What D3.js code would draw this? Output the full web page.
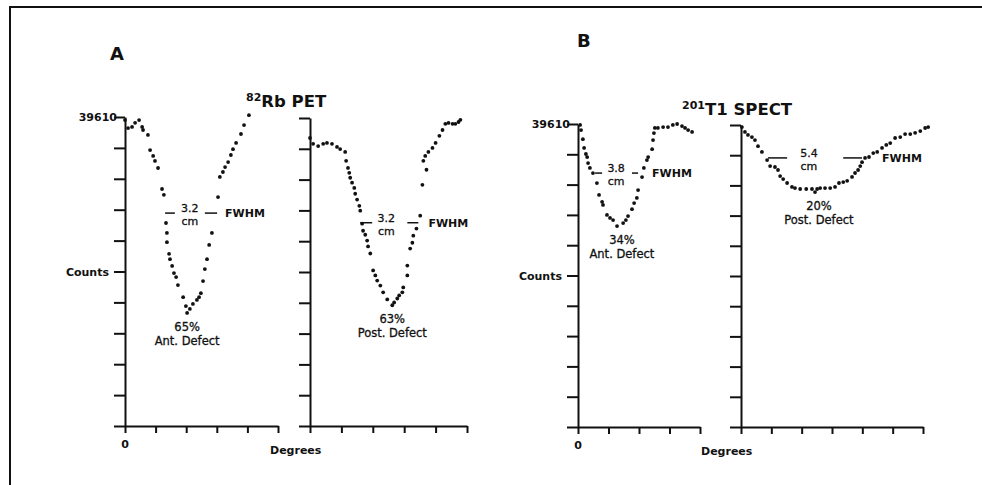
<!DOCTYPE html>
<html>
<head>
<meta charset="utf-8">
<script src="https://cdn.jsdelivr.net/npm/d3@7"></script>
<style>
  html, body { margin: 0; padding: 0; background: #fff; }
  svg { display: block; }
  text { font-family: "DejaVu Sans", sans-serif; fill: #111; }
  .note { stroke: #111; stroke-width: 0.3; }
</style>
</head>
<body>
<div id="chart"></div>
<script>
// counts as % of the 39610 maximum, x in axis-tick units (degrees)
const rbAnterior = [
  [0, 99.0], [0.1, 96.4], [0.23, 96.8], [0.33, 98.1], [0.46, 99.0], [0.56, 96.8],
  [0.59, 95.8], [0.75, 94.2], [0.82, 89.3], [0.92, 87.4], [0.98, 85.8], [1.08, 83.5],
  [1.21, 76.7], [1.27, 74.8], [1.34, 65.7], [1.37, 62.5], [1.37, 59.5], [1.44, 55.7],
  [1.47, 54.0], [1.54, 51.8], [1.6, 49.5], [1.67, 48.2], [1.73, 45.6], [1.9, 41.7],
  [1.99, 38.8], [2.03, 36.6], [2.12, 37.9], [2.22, 39.5], [2.35, 40.8], [2.42, 41.7],
  [2.48, 43.0], [2.55, 46.9], [2.61, 50.8], [2.68, 54.0], [2.75, 58.6], [2.84, 62.5],
  [3.04, 74.1], [3.1, 80.6], [3.2, 82.2], [3.27, 83.8], [3.37, 85.4], [3.46, 87.7],
  [3.53, 89.6], [3.63, 91.6], [3.79, 94.5], [3.89, 97.4], [4.05, 100.6]
];
const rbPosterior = [
  [0, 93.5], [0.1, 91.6], [0.26, 90.9], [0.42, 91.6], [0.54, 91.9], [0.7, 91.6],
  [0.86, 90.6], [0.96, 89.9], [1.12, 89.0], [1.15, 86.1], [1.21, 83.8], [1.25, 82.2],
  [1.28, 80.6], [1.34, 79.0], [1.41, 77.3], [1.44, 75.4], [1.5, 73.5], [1.57, 71.5],
  [1.6, 69.9], [1.66, 65.7], [1.69, 63.4], [1.76, 62.1], [1.82, 60.2], [1.85, 58.3],
  [1.92, 56.0], [2.01, 50.5], [2.08, 48.9], [2.14, 47.2], [2.24, 45.6], [2.33, 43.4],
  [2.46, 41.1], [2.62, 39.2], [2.68, 40.1], [2.78, 41.4], [2.84, 42.4], [2.94, 43.4],
  [2.97, 45.0], [3.1, 48.9], [3.1, 52.1], [3.19, 57.6], [3.26, 59.5], [3.29, 61.8],
  [3.39, 64.1], [3.51, 68.3], [3.58, 78.3], [3.71, 83.2], [3.61, 86.1], [3.67, 87.7],
  [3.77, 89.0], [3.9, 90.3], [4.0, 91.9], [4.12, 94.2], [4.22, 96.1], [4.31, 98.1],
  [4.41, 98.4], [4.54, 98.1], [4.63, 98.1], [4.73, 98.7], [4.79, 99.4]
];
const tlAnterior = [
  [0.07, 99.7], [0.1, 98.0], [0.16, 95.0], [0.2, 92.1], [0.26, 90.1], [0.3, 89.1],
  [0.33, 87.1], [0.39, 85.5], [0.49, 83.8], [0.62, 80.5], [0.69, 76.6], [0.79, 74.3],
  [0.82, 73.3], [0.95, 70.0], [1.05, 69.0], [1.15, 68.3], [1.28, 66.3], [1.48, 67.3],
  [1.57, 68.3], [1.64, 69.6], [1.77, 71.9], [1.84, 73.9], [1.93, 75.6], [1.97, 78.2],
  [2.1, 82.5], [2.16, 85.5], [2.26, 88.1], [2.3, 89.1], [2.43, 91.7], [2.46, 94.7],
  [2.49, 97.0], [2.52, 98.7], [2.62, 98.7], [2.79, 99.0], [2.95, 99.0], [3.11, 99.7],
  [3.25, 100], [3.41, 99.3], [3.51, 98.7], [3.61, 98.0], [3.74, 97.4]
];
const tlPosterior = [
  [0.03, 99.3], [0.13, 97.7], [0.23, 96.7], [0.36, 96.0], [0.46, 95.0], [0.56, 93.0],
  [0.69, 91.1], [0.86, 88.4], [0.96, 86.4], [1.12, 86.1], [1.22, 85.1], [1.29, 83.1],
  [1.39, 82.1], [1.52, 80.8], [1.68, 79.5], [1.78, 79.1], [1.95, 78.8], [2.15, 78.8],
  [2.34, 78.8], [2.44, 77.8], [2.51, 78.8], [2.61, 79.1], [2.77, 79.1], [2.94, 79.1],
  [3.1, 79.5], [3.23, 80.8], [3.37, 81.1], [3.5, 81.5], [3.66, 82.8], [3.76, 84.1],
  [3.86, 85.1], [3.93, 86.4], [3.99, 87.7], [4.09, 89.1], [4.22, 89.4], [4.36, 90.7],
  [4.49, 91.1], [4.65, 92.4], [4.79, 93.4], [4.92, 94.0], [5.08, 95.7], [5.25, 96.0],
  [5.41, 97.0], [5.58, 97.0], [5.74, 97.4], [5.91, 98.0], [6.07, 99.0], [6.17, 99.3]
];

const maxCounts = "39610";
const yTicks = d3.range(0, 101, 10);
const fwhmWidths = ["3.2", "3.2", "3.8", "5.4"];
const defectPercents = ["65%", "63%", "34%", "20%"];
const defectNames = ["Ant. Defect", "Post. Defect", "Ant. Defect", "Post. Defect"];
// fwhm level (%), left dash, right dash, width label x, defect label x (tick units)
const fwhmLevels = [68.9, 66.0, 83.8, 89.1];
const fwhmLeft = [[1.31, 1.63], [1.60, 1.98], [0.56, 0.79], [0.89, 1.52]];
const fwhmRight = [[2.61, 3.01], [3.10, 3.45], [1.77, 1.97], [3.37, 3.99]];
const fwhmLabelX = [2.12, 2.43, 1.25, 2.24];
const fwhmTagX = [3.27, 3.77, 2.43, 4.65];
const defectLabelX = [2.03, 2.62, 1.44, 2.57];
const defectMin = [36.6, 39.2, 66.3, 77.8];

const series = [rbAnterior, rbPosterior, tlAnterior, tlPosterior];

// panel layout in pixels
const panels = [
  { x0: 125, x1: 278, ticks: 5, top: 117, bottom: 426, first: true },
  { x0: 310, x1: 467, ticks: 5, top: 118, bottom: 426, first: false },
  { x0: 578, x1: 700, ticks: 4, top: 124, bottom: 427, first: true },
  { x0: 741, x1: 923, ticks: 6, top: 125, bottom: 427, first: false }
];

const width = 982, height = 485;
const svg = d3.select("#chart").append("svg")
  .attr("width", width)
  .attr("height", height);

// frame
svg.append("path")
  .attr("d", "M10,485V7H982")
  .attr("fill", "none")
  .attr("stroke", "#111")
  .attr("stroke-width", 2);

panels.forEach((p, i) => {
  const x = d3.scaleLinear().domain([0, p.ticks]).range([p.x0, p.x1]);
  const y = d3.scaleLinear().domain([0, 100]).range([p.bottom, p.top]);
  const g = svg.append("g");

  const yAxis = g.append("g")
    .attr("transform", `translate(${p.x0},0)`)
    .call(d3.axisLeft(y).tickValues(yTicks).tickSize(11).tickSizeOuter(0).tickFormat(""));
  const xAxis = g.append("g")
    .attr("transform", `translate(0,${p.bottom})`)
    .call(d3.axisBottom(x).tickValues(d3.range(0, p.ticks + 1)).tickSize(7).tickSizeOuter(0).tickFormat(""));
  [yAxis, xAxis].forEach(a => {
    a.selectAll("path, line").attr("stroke", "#111").attr("stroke-width", 2);
  });

  if (p.first) {
    g.append("text")
      .attr("x", p.x0 - 8).attr("y", y(100) + 4)
      .attr("text-anchor", "end")
      .attr("font-size", 11).attr("font-weight", "bold")
      .text(maxCounts);
    g.append("text")
      .attr("x", p.x0 - 16).attr("y", y(50) + 4)
      .attr("text-anchor", "end")
      .attr("font-size", 11).attr("font-weight", "bold")
      .text("Counts");
    g.append("text")
      .attr("x", x(0)).attr("y", p.bottom + 22)
      .attr("text-anchor", "middle")
      .attr("font-size", 11).attr("font-weight", "bold")
      .text("0");
  } else {
    g.append("text")
      .attr("x", p.x0 - 40).attr("y", p.bottom + 28)
      .attr("font-size", 11).attr("font-weight", "bold")
      .text("Degrees");
  }

  // profile dots
  g.append("g").selectAll("circle")
    .data(series[i])
    .join("circle")
    .attr("cx", d => x(d[0]))
    .attr("cy", d => y(d[1]))
    .attr("r", 1.9)
    .attr("fill", "#111");

  // FWHM marks
  const ly = y(fwhmLevels[i]);
  [fwhmLeft[i], fwhmRight[i]].forEach(r => {
    g.append("line")
      .attr("x1", x(r[0])).attr("x2", x(r[1]))
      .attr("y1", ly).attr("y2", ly)
      .attr("stroke", "#111").attr("stroke-width", 1.5);
  });
  g.append("text").attr("class", "note")
    .attr("x", x(fwhmLabelX[i])).attr("y", ly - 1)
    .attr("text-anchor", "middle").attr("font-size", 11)
    .text(fwhmWidths[i]);
  g.append("text").attr("class", "note")
    .attr("x", x(fwhmLabelX[i])).attr("y", ly + 12)
    .attr("text-anchor", "middle").attr("font-size", 11)
    .text("cm");
  g.append("text")
    .attr("x", x(fwhmTagX[i])).attr("y", ly + 4)
    .attr("font-size", 11).attr("font-weight", "bold")
    .text("FWHM");

  // defect labels
  const my = y(defectMin[i]);
  g.append("text").attr("class", "note")
    .attr("x", x(defectLabelX[i])).attr("y", my + 18)
    .attr("text-anchor", "middle").attr("font-size", 11.5)
    .text(defectPercents[i]);
  g.append("text").attr("class", "note")
    .attr("x", x(defectLabelX[i])).attr("y", my + 32)
    .attr("text-anchor", "middle").attr("font-size", 11.5)
    .text(defectNames[i]);
});

// panel letters and titles
svg.append("text").attr("x", 110).attr("y", 60)
  .attr("font-size", 18).attr("font-weight", "bold").text("A");
svg.append("text").attr("x", 577).attr("y", 47)
  .attr("font-size", 18).attr("font-weight", "bold").text("B");

const t1 = svg.append("text").attr("x", 246).attr("y", 107)
  .attr("font-weight", "bold");
t1.append("tspan").attr("font-size", 11).attr("dy", -6).text("82");
t1.append("tspan").attr("font-size", 16.5).attr("dy", 6).text("Rb PET");

const t2 = svg.append("text").attr("x", 682).attr("y", 115)
  .attr("font-weight", "bold");
t2.append("tspan").attr("font-size", 11).attr("dy", -6).text("201");
t2.append("tspan").attr("font-size", 16.5).attr("dy", 6).text("T1 SPECT");
</script>
</body>
</html>
